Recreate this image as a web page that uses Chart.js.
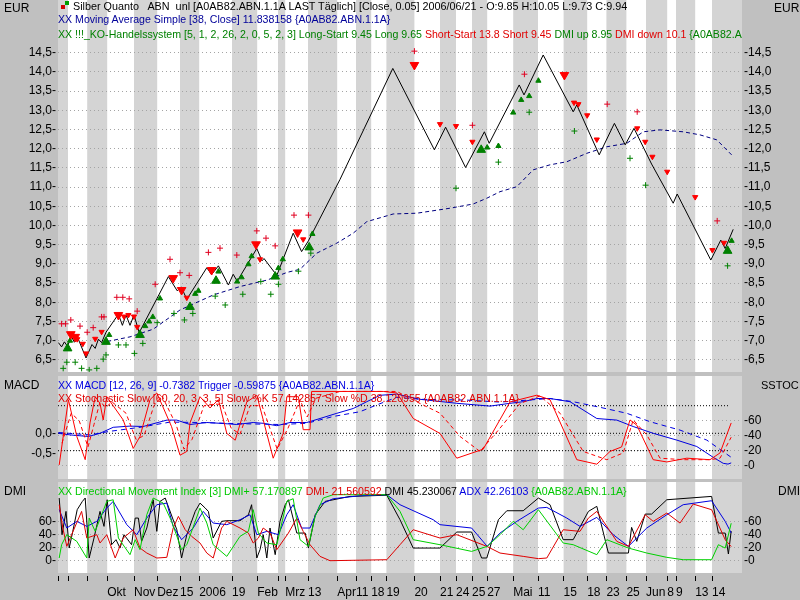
<!DOCTYPE html>
<html>
<head>
<meta charset="utf-8">
<script src="https://cdn.jsdelivr.net/npm/chart.js@4/dist/chart.umd.min.js"></script>
<style>
  body { margin: 0; background: #c0c0c0; }
  #wrap { position: relative; width: 800px; height: 600px; overflow: hidden; background: #c0c0c0;
          font-family: "Liberation Sans", Arial, sans-serif; }
  canvas { position: absolute; left: 0; }
  .hd { position: absolute; left: 58px; width: 684px; overflow: hidden; white-space: pre;
        font-size: 10.6px; line-height: 12px; }
  .ax { position: absolute; font-size: 12px; line-height: 14px; color: #000; }
  .sq { position: absolute; width: 4px; height: 4px; }
</style>
</head>
<body>
<div id="wrap">
  <canvas id="cPrice" width="800" height="372" style="top:0"></canvas>
  <canvas id="cMacd" width="800" height="103" style="top:376px"></canvas>
  <canvas id="cDmi" width="800" height="118" style="top:482px"></canvas>

  <div class="ax" style="left:4px;top:1px">EUR</div>
  <div class="ax" style="left:774px;top:1px">EUR</div>
  <div class="ax" style="left:4px;top:378px">MACD</div>
  <div class="ax" style="left:761px;top:378px;font-size:11px">SSTOC</div>
  <div class="ax" style="left:4px;top:484px">DMI</div>
  <div class="ax" style="left:778px;top:484px">DMI</div>

  <div class="sq" style="left:61px;top:5px;background:#d00000"></div>
  <div class="sq" style="left:65px;top:1px;background:#00a000"></div>
  <div class="hd" style="top:0;color:#000;font-size:10.8px"><span style="padding-left:15px">Silber Quanto   ABN  unl [A0AB82.ABN.1.1A LAST Täglich] [Close, 0.05] 2006/06/21 - O:9.85 H:10.05 L:9.73 C:9.94</span></div>
  <div class="hd" style="top:13px;color:#000099">XX Moving Average Simple [38, Close] 11.838158 {A0AB82.ABN.1.1A}</div>
  <div class="hd" style="top:28px;color:#008000">XX !!!_KO-Handelssystem [5, 1, 2, 26, 2, 0, 5, 2, 3] Long-Start 9.45 Long 9.65 <span style="color:#e00000">Short-Start 13.8 Short 9.45 </span>DMI up 8.95 <span style="color:#e00000">DMI down 10.1 </span>{A0AB82.ABN.1.1A}</div>

  <div class="hd" style="top:379px;color:#0000e0">XX MACD [12, 26, 9] -0.7382 Trigger -0.59875 {A0AB82.ABN.1.1A}</div>
  <div class="hd" style="top:392px;color:#e00000">XX Stochastic Slow [60, 20, 3, 3, 5] Slow %K 57.142857 Slow %D 38.120955 {A0AB82.ABN.1.1A}</div>

  <div class="hd" style="top:485px;color:#00c800">XX Directional Movement Index [3] DMI+ 57.170897 <span style="color:#e00000">DMI- 21.560592 </span><span style="color:#000">DMI 45.230067 </span><span style="color:#0000e0">ADX 42.26103 </span>{A0AB82.ABN.1.1A}</div>
</div>

<script>
// x axis: bar position 0..171, ticks at period boundaries
const xMax = 171;
const tickPos = [0, 2.5, 7.3, 12.3, 19, 24.8, 30.5, 35.3, 43.5, 49.8, 55, 56.8, 62.5, 69.8, 74.5, 78.3, 82.1,
  89.1, 95.5, 99.5, 103.5, 107.3, 113.8, 120, 126.4, 132.3, 137.1, 142.1, 147, 152.3, 154.5, 159.3, 163.5];
const tickLabels = ['', '', '', 'Okt', 'Nov', 'Dez', '15', '2006', '19', 'Feb', '', 'Mrz', '13', 'Apr', '11', '18', '19',
  '20', '21', '24', '25', '27', 'Mai', '11', '15', '18', '23', '25', 'Jun', '8', '9', '13', '14'];

const priceTicks = [6.5, 7, 7.5, 8, 8.5, 9, 9.5, 10, 10.5, 11, 11.5, 12, 12.5, 13, 13.5, 14, 14.5];
const macdTicks = [0, -0.5];
const stochTicks = [0, 20, 40, 60];
const dmiTicks = [0, 20, 40, 60];
const stochLevels = [80, 20];
const macdLevels = [0];
const levelSpan = [0, 167.5];

// price panel
const price = [[0.1,6.95],[0.9,6.84],[1.6,6.97],[2.4,6.85],[3.3,7.12],[4.1,6.96],[5,7.06],[7,6.55],[8.5,6.9],[9.3,6.8],
  [10.1,7.04],[10.9,6.95],[12,7.22],[15.1,7.69],[16.1,7.4],[17,7.67],[18,7.4],[19,7.67],[20.3,7.21],[27.6,8.67],
  [29.8,8.3],[30.8,8.4],[32.2,8.08],[37.2,8.9],[38.4,8.72],[40.1,8.95],[42.6,8.45],[43.8,8.73],[44.8,8.55],[49.7,9.4],
  [51,9.08],[51.5,9.14],[54.7,8.7],[58.8,9.8],[60.9,9.32],[62.6,9.6],[70.5,11.2],[83.7,14.09],[94.1,11.97],[96.9,12.56],
  [101.9,11.51],[106.6,12.44],[107.8,12.14],[115.3,13.66],[116.5,13.4],[121.3,14.44],[128.8,12.96],[129.7,13.14],
  [135.3,11.84],[139.1,12.66],[141.8,12.1],[144,12.53],[148.4,11.6],[153.8,10.58],[154.8,10.82],[163.2,9.1],
  [165.7,9.62],[166.8,9.4],[168.8,9.9]];
const movAvg = [[12.3,6.98],[18,7.1],[23.8,7.3],[30.5,7.8],[38.8,8.19],[45.5,8.41],[52.3,8.58],[57.3,8.78],[60.5,8.86],
  [64.7,9.28],[69.7,9.54],[73.8,9.8],[77.2,10.1],[83.8,10.3],[89.7,10.32],[98,10.45],[103.8,10.56],[107.2,10.71],
  [110.5,10.88],[114.7,11.01],[118.8,11.45],[123,11.58],[127.2,11.66],[132.2,11.88],[137.2,12.05],[142.2,12.14],
  [146.3,12.44],[150.5,12.49],[156.3,12.44],[160.5,12.36],[164.7,12.23],[168.4,11.84]];
const shortBig = [[3.2,7.17],[4.3,7.1],[15.1,7.67],[28.8,8.63],[30.9,8.32],[38.4,8.84],[49.5,9.51],[59.9,9.82],[89.1,14.18],[126.6,13.92]];
const shortSmall = [[4.8,7.04],[6.2,6.92],[7,6.67],[9.3,7.05],[10.9,7.23],[16.5,7.63],[17.6,7.67],[19,7.63],[19.8,7.36],
  [32.2,8.12],[50.5,9.12],[61.3,9.64],[95.5,12.64],[99.5,12.59],[103.6,12.18],[129,13.2],[130.1,13.16],[132.3,12.87],
  [134.7,12.24],[144.8,12.53],[146.8,12.18],[148.6,11.79],[152.3,11.4],[159.3,10.74],[163.6,9.36],[166.5,9.55]];
const longBig = [[2.4,6.8],[12,6.97],[20.5,7.15],[33,7.88],[39.5,8.56],[54.3,8.67],[62.8,9.43],[105.8,11.97],[167.4,9.34]];
const longSmall = [[3,7.0],[12.8,7.15],[21.8,7.38],[22.8,7.5],[23.7,7.62],[25.5,8.1],[34.3,8.22],[35.1,8.3],[40.1,8.8],
  [44.8,8.54],[45.9,8.65],[47.6,8.99],[48.4,9.2],[55.1,8.89],[56.2,9.12],[63.6,9.78],[107.3,12.03],[110.1,12.07],
  [113.8,12.94],[115.8,13.27],[117.8,13.37],[120.1,13.77],[168.4,9.6]];
const stopShort = [[0.9,7.44],[1.9,7.44],[3.2,7.54],[5.5,7.38],[7.3,7.22],[8.8,7.34],[10.9,7.62],[11.5,7.62],[14.7,8.13],
  [16.2,8.13],[17.8,8.09],[19.8,7.77],[24.3,8.47],[28,9.12],[30.5,8.77],[32.8,8.7],[37.6,9.3],[40.5,9.41],[44.7,9.23],
  [49.7,9.86],[52,9.67],[54.3,9.47],[59,10.27],[62.6,10.27],[89.1,14.54],[103.6,12.61],[116.6,13.94],[137.3,13.16],
  [144.8,12.96],[164.8,10.12]];
const stopLong = [[1.3,6.28],[2.2,6.44],[4.3,6.44],[5.9,6.28],[7.8,6.24],[9.7,6.28],[11.3,6.52],[12,6.63],[15.1,6.89],
  [17,6.89],[19.1,6.67],[21.2,6.93],[24.8,7.47],[29,7.71],[31.6,7.54],[33.7,7.71],[39.3,8.16],[41.8,7.93],[46.2,8.21],
  [50.7,8.54],[53.2,8.21],[55.1,8.47],[60.1,8.81],[63.2,9.28],[99.5,10.97],[110.1,11.65],[117.8,12.95],[129.1,12.46],
  [143,11.75],[146.9,11.05],[167.4,8.95]];

// MACD / stochastic panel
const macd = [[0.1,0],[3,-0.04],[7.6,-0.08],[10.5,0],[13.8,0.15],[18,0.18],[21.3,0.17],[27.2,0.33],[29.7,0.33],[33,0.22],
  [37.2,0.27],[40.5,0.25],[44.7,0.22],[48.8,0.27],[51.3,0.25],[54.7,0.19],[58,0.27],[62.2,0.27],[65.5,0.37],[69.7,0.5],
  [73.8,0.62],[77.2,0.79],[80.5,0.95],[84.7,0.98],[90.5,0.85],[99.7,0.75],[108,0.68],[113,0.75],[116.3,0.79],
  [119.7,0.87],[123,0.87],[128,0.79],[134.7,0.37],[139.7,0.33],[143.8,0.17],[148.8,0],[154.7,-0.17],[159.7,-0.33],
  [163.8,-0.6],[166.3,-0.75],[167.5,-0.77],[168.3,-0.74]];
const trigger = [[0.1,0.02],[8,-0.04],[13,0.05],[20.5,0.15],[28,0.28],[35.5,0.27],[45.5,0.24],[55.5,0.22],[62.2,0.25],
  [68.8,0.42],[75.5,0.54],[79.7,0.71],[84.7,0.9],[90.5,0.85],[102.2,0.83],[110.5,0.78],[123,0.87],[128.8,0.79],
  [135.5,0.65],[142.2,0.5],[148,0.29],[155.5,0.08],[162.2,-0.17],[168.3,-0.6]];
const stochK = [[0.3,1],[2.6,88],[4.7,39],[6.8,8],[8,57],[9.3,92],[10.5,83],[11.3,61],[12.2,92],[16.3,61],[18.8,23],
  [20.5,39],[23,88],[24.7,97],[28.4,52],[30.5,14],[32.2,19],[33,57],[35.5,92],[38,77],[40.1,88],[42.2,43],[44.3,34],
  [47.2,85],[49.7,94],[53.8,10],[56.3,43],[57.2,92],[60.1,92],[61.3,48],[63,48],[63.4,99],[81.3,99],[84.7,97],
  [88.8,63],[95.5,43],[99.7,10],[106.3,22],[113,85],[119.7,94],[123,88],[129.7,8],[134.7,2],[138,19],[140.9,25],
  [143,61],[144.7,54],[148.8,8],[152.2,5],[157.2,10],[163,8],[165.5,17],[168.3,57]];
const stochD = [[1,30],[3.3,70],[5.3,60],[7.5,25],[9,55],[10.5,85],[12,78],[13.5,85],[17,70],[19.5,35],[21.5,40],[24,80],
  [26,93],[29.5,55],[31.5,22],[33.5,35],[36.5,80],[39,82],[41,82],[43.3,50],[45.5,42],[48,80],[51,80],[54.8,22],
  [57.5,50],[60.5,88],[62.3,65],[64.5,90],[70.5,99],[84.7,99],[90.5,83],[95.5,70],[100.5,39],[105.5,19],[110.5,50],
  [115.5,83],[120.5,93],[125.5,70],[131.3,19],[137.2,8],[141.3,17],[143.8,61],[147.2,41],[150.5,10],[156.3,8],
  [163,8],[165.5,10],[168.3,38]];

// DMI panel
const dx = [[0.3,95.7],[1,39.7],[2,75.3],[2.8,19.3],[3.7,44.8],[4.8,77.9],[6.1,90.6],[6.8,95.7],[7.8,4.1],[9,34.6],
  [10.5,75.3],[11.5,52.4],[12.3,93.1],[13.4,24.4],[14.5,32.1],[15.5,19.3],[16.5,39.7],[18.4,24.4],[19.3,65.1],
  [20.1,65.1],[20.9,29.5],[22.2,49.9],[23.8,93.1],[24.7,44.8],[25.5,90.6],[26.8,95.7],[29.7,47.3],[30.9,4.1],
  [32.2,39.7],[34.3,75.3],[35.5,88],[36.8,80.4],[37.6,75.3],[38.8,34.6],[40.9,60.1],[42.2,61.1],[45.5,61.1],
  [47.6,70.2],[48.4,85.5],[49.7,4.1],[50.5,16.8],[51.3,39.7],[52.2,4.1],[53,49.9],[54.3,9.2],[55.5,60.1],[56.8,85.5],
  [57.6,93.1],[59.7,42.2],[61.8,42.2],[62.6,19.3],[64.3,70.2],[66.8,90.6],[73,98.2],[82.2,100],[85.5,62.6],
  [88.8,19.3],[95.5,19.3],[99.7,43.8],[103.4,43.8],[105.9,4.1],[107.2,4.1],[110.1,62.6],[112.2,76.3],[116.3,76.3],
  [120.1,95.7],[123,85.5],[126.3,32.1],[128.8,32.1],[132.6,75.3],[134.7,83],[137.6,11.7],[142.6,11.7],[143.4,50.9],
  [144.7,29.5],[146.8,71.2],[148.4,71.2],[152.2,93.1],[163.4,98.2],[165.1,42.2],[166.8,42.2],[167.6,10.2],[168.3,45.2]];
const adx = [[0.3,77.9],[2.2,49.9],[4.7,60.1],[7.2,52.4],[9.7,60.1],[12.2,80.4],[13.8,90.6],[17.2,55],[19.7,39.7],
  [22.2,65.1],[24.7,85.5],[27.2,88],[28.8,52.4],[30.9,32.1],[33.8,49.9],[36.3,75.3],[38.8,57.5],[42.2,55],[45.5,62.6],
  [48,70.2],[49.7,39.7],[52.2,44.8],[55.1,39.7],[57.2,70.2],[58.8,85.5],[60.9,49.9],[63,49.9],[65.5,85.5],[68.8,94.7],
  [75.5,99.2],[82.2,100.8],[85.5,85.5],[93.8,62.6],[95.5,55],[103.4,49.9],[107.3,21.9],[110.5,42.2],[114.7,60.1],
  [120.1,80.4],[122.2,81.4],[127.2,65.1],[130.5,52.4],[134.7,66.2],[138.8,39.7],[142.6,21.9],[147.2,49.9],[152.2,70.2],
  [156.3,85.5],[163.4,91.6],[166.8,60.1],[168.3,42.3]];
const dmiMinus = [[0.3,85.5],[1.2,49.9],[2.2,21.9],[3.4,39.7],[5.9,75.3],[7.2,34.6],[9.7,39.7],[10.5,27],[12.2,39.7],
  [14.3,4.1],[16.3,34.6],[18.8,47.3],[20.5,19.3],[22.2,11.7],[24.7,4.1],[27.2,5.1],[28.8,49.9],[30.1,67.7],[31.8,47.3],
  [33.4,37.2],[35.5,27],[37.2,11.7],[38.8,4.1],[40.9,49.9],[42.2,60.1],[45.5,49.9],[47.6,42.2],[48.8,27],[50.1,34.6],
  [51.3,49.9],[53,42.2],[54.7,16.8],[57.6,42.2],[59.7,65.1],[61.3,44.8],[63,24.4],[65.5,6.6],[68,0],[82.2,1.5],
  [85.5,24.4],[88.8,47.3],[95.5,34.6],[99.7,39.7],[107.2,21.9],[110.5,11.7],[116.3,6.6],[120.1,3.1],[122.2,4.1],
  [126.3,47.3],[130.5,44.8],[132.6,65.1],[134.7,75.3],[139.7,29.5],[142.6,21.9],[146.8,70.2],[148.8,60.1],[152.2,72.8],
  [155.5,57.5],[158.8,86.5],[163.4,77.9],[166.8,32.1],[168.3,21.6]];
const dmiPlus = [[0.3,4.1],[0.9,24.4],[2.2,39.7],[4.7,29.5],[7.2,4.1],[7.8,65.1],[9.3,44.8],[12.2,90.6],[13.8,93.1],
  [15.1,34.6],[18,9.2],[19.3,32.1],[20.5,16.8],[22.2,70.2],[23.8,95.7],[26.3,88],[28.4,60.1],[30.9,16.8],[32.2,24.4],
  [35.5,80.4],[37.2,57.5],[38.8,24.4],[42.2,6.6],[45.5,37.2],[47.6,44.8],[48.8,77.9],[50.1,42.2],[52.2,27],[54.7,24.4],
  [57.2,90.6],[58.8,94.7],[60.5,32.1],[62.6,21.9],[64.3,67.7],[66.3,95.7],[68.8,100.8],[82.2,100.8],[85.5,75.3],
  [88.8,32.1],[95.5,24.4],[103.4,14.2],[107.3,21.9],[110.5,39.7],[113.8,60.1],[116.3,47.3],[120.1,77.9],[126.3,27],
  [128.8,24.4],[134.7,9.2],[137.2,32.1],[142.6,19.3],[147.2,11.7],[152.2,5.1],[156.3,1.5],[163.4,1.5],[165.1,24.4],
  [166.8,19.3],[168.3,57.2]];

const FONT = { family: 'Liberation Sans', size: 12 };
const pts = a => a.map(([x, y]) => ({ x, y }));
const comma = (v, d) => v.toFixed(d).replace('.', ',');

// alternating grey / white period bands behind each panel
const stripes = {
  id: 'stripes',
  beforeDraw(chart) {
    const { ctx, chartArea: a, scales: { x } } = chart;
    ctx.save();
    ctx.fillStyle = '#ffffff';
    ctx.fillRect(a.left, a.top, a.right - a.left, a.bottom - a.top);
    ctx.fillStyle = '#d4d4d4';
    const b = tickPos.concat([xMax]);
    for (let i = 0; i < b.length - 1; i += 2) {
      const x0 = x.getPixelForValue(b[i]), x1 = x.getPixelForValue(b[i + 1]);
      ctx.fillRect(x0, a.top, x1 - x0, a.bottom - a.top);
    }
    ctx.restore();
  }
};

function xAxis(show) {
  return {
    type: 'linear', min: 0, max: xMax, display: show,
    afterBuildTicks: s => { s.ticks = tickPos.map(v => ({ value: v })); },
    afterFit: s => { if (show) s.height = 27; s.paddingLeft = 0; s.paddingRight = 0; },
    grid: { drawOnChartArea: false, tickLength: 9, tickColor: '#000', tickBorderDash: [0, 3, 5, 40] },
    border: { display: false },
    ticks: { autoSkip: false, maxRotation: 0, align: 'start', padding: 3, color: '#000', font: FONT,
             callback: (v, i) => tickLabels[i] }
  };
}

function yAxis(pos, min, max, vals, fmt, grid) {
  return {
    type: 'linear', position: pos, min, max,
    afterBuildTicks: s => { s.ticks = vals.map(v => ({ value: v })); },
    afterFit: s => { s.width = 58; s.paddingTop = 0; s.paddingBottom = 0; },
    grid: grid ? { drawTicks: false, color: '#a4a4a4', lineWidth: 1 } : { drawTicks: false, drawOnChartArea: false },
    border: { display: false, dash: [1, 3] },
    ticks: { padding: 2, color: '#000', font: FONT, callback: fmt }
  };
}

function line(data, color, axis, dash) {
  return { data: pts(data), yAxisID: axis, showLine: true, borderColor: color, borderWidth: 1,
           borderDash: dash || [], pointRadius: 0, fill: false };
}
function marks(data, style, color, radius, rot) {
  return { data: pts(data), yAxisID: 'y', showLine: false, pointStyle: style, pointRadius: radius,
           pointRotation: rot || 0, borderColor: color, backgroundColor: color, borderWidth: 1 };
}

function panel(id, datasets, scales) {
  return new Chart(document.getElementById(id), {
    type: 'scatter',
    data: { datasets },
    options: {
      responsive: false, animation: false, events: [],
      layout: { padding: 0, autoPadding: false },
      plugins: { legend: { display: false }, tooltip: { enabled: false } },
      scales
    },
    plugins: [stripes]
  });
}

// PRICE PANEL
panel('cPrice', [
  marks(shortBig, 'triangle', '#ff0000', 5, 180),
  marks(shortSmall, 'triangle', '#ff0000', 3, 180),
  marks(longBig, 'triangle', '#008000', 5),
  marks(longSmall, 'triangle', '#008000', 3),
  marks(stopShort, 'cross', '#e00020', 3),
  marks(stopLong, 'cross', '#008000', 3),
  line(price, '#000000', 'y'),
  line(movAvg, '#000080', 'y', [4, 3])
], {
  x: xAxis(false),
  y: yAxis('left', 6.185, 15.872, priceTicks, v => comma(v, 1) + '-', true),
  y2: yAxis('right', 6.185, 15.872, priceTicks, v => '-' + comma(v, 1), false)
});

// MACD + STOCHASTIC PANEL
panel('cMacd', [
  line(stochK, '#ff0000', 'ys'),
  line(stochD, '#ff0000', 'ys', [4, 3]),
  line(macd, '#0000e0', 'ym'),
  line(trigger, '#0000e0', 'ym', [5, 4]),
  ...stochLevels.map(l => line(levelSpan.map(x => [x, l]), '#000000', 'ys', [1, 2])),
  ...macdLevels.map(l => line(levelSpan.map(x => [x, l]), '#000000', 'ym', [1, 2]))
], {
  x: xAxis(false),
  ym: yAxis('left', -1.1425, 1.4325, macdTicks, v => comma(v, 1) + '-', false),
  ys: yAxis('right', -17.73, 119.6, stochTicks, v => '-' + v, true)
});

// DMI PANEL
panel('cDmi', [
  line(dmiPlus, '#00d000', 'yd'),
  line(dmiMinus, '#e00000', 'yd'),
  line(adx, '#0000e0', 'yd'),
  line(dx, '#000000', 'yd')
], {
  x: xAxis(true),
  yd: yAxis('left', -18.8, 120.2, dmiTicks, v => v + '-', true),
  yd2: yAxis('right', -18.8, 120.2, dmiTicks, v => '-' + v, false)
});
</script>
</body>
</html>
